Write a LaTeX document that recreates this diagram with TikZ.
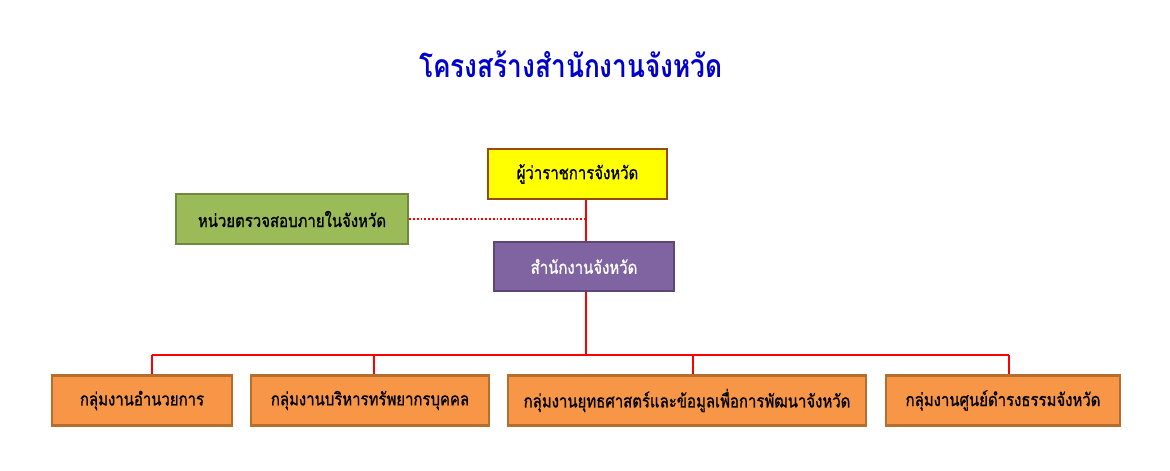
\documentclass[tikz,border=0pt]{standalone}
\usepackage{fontspec}
\newfontfamily\thaifont[Script=Thai, FakeStretch=0.83, FakeBold=1]{Loma}
\newfontfamily\thaititle[Script=Thai, FakeStretch=0.82]{Loma Bold}
\definecolor{titleblue}{RGB}{0,0,204}
\definecolor{yellowfill}{RGB}{255,255,0}
\definecolor{yellowline}{RGB}{152,72,7}
\definecolor{greenfill}{RGB}{155,187,89}
\definecolor{greenline}{RGB}{113,137,63}
\definecolor{purplefill}{RGB}{128,100,162}
\definecolor{purpleline}{RGB}{92,71,118}
\definecolor{orangefill}{RGB}{247,150,70}
\definecolor{orangeline}{RGB}{182,110,46}
\begin{document}
\begin{tikzpicture}[x=1pt,y=-1pt,
  box/.style={draw, line width=2.5pt, inner sep=0pt, minimum height=50pt,
    font=\thaifont\fontsize{18}{20}\selectfont},
  orgbox/.style={box, fill=orangefill, draw=orangeline},
  link/.style={draw=red, line width=1.8pt},
  dotlink/.style={draw=red, line width=1.8pt, dotted},
  titletext/.style={font=\thaititle\fontsize{32}{36}\selectfont, text=titleblue}]
\useasboundingbox[fill=white] (0,0) rectangle (1170,471);
\node[titletext] (title) at (571,64) {โครงสร้างสำนักงานจังหวัด};
\node[box, fill=yellowfill, draw=yellowline, minimum width=179pt] (gov) at (577.5,174) {ผู้ว่าราชการจังหวัด};
\node[box, fill=greenfill, draw=greenline, minimum width=232pt] (audit) at (292,219) {หน่วยตรวจสอบภายในจังหวัด};
\node[box, fill=purplefill, draw=purpleline, text=white, minimum width=180pt, minimum height=49pt] (office) at (584,266.5) {สำนักงานจังหวัด};
\node[orgbox, minimum width=180pt] (g1) at (142,400.5) {กลุ่มงานอำนวยการ};
\node[orgbox, minimum width=238pt] (g2) at (370,400.5) {กลุ่มงานบริหารทรัพยากรบุคคล};
\node[orgbox, minimum width=358pt] (g3) at (687,400.5) {กลุ่มงานยุทธศาสตร์และข้อมูลเพื่อการพัฒนาจังหวัด};
\node[orgbox, minimum width=234pt] (g4) at (1003,400.5) {กลุ่มงานศูนย์ดำรงธรรมจังหวัด};
\coordinate (trunk) at (586,355);
\coordinate (d1) at (152,355);
\coordinate (d2) at (374,355);
\coordinate (d3) at (693,355);
\coordinate (d4) at (1009,355);
\draw[link] (trunk |- gov.south) -- (trunk |- office.north);
\draw[dotlink] (audit.east) -- (audit.east -| trunk);
\draw[link] (trunk |- office.south) -- (trunk);
\draw[link] (d1) -- (d4);
\draw[link] (d1) -- (d1 |- g1.north);
\draw[link] (d2) -- (d2 |- g2.north);
\draw[link] (d3) -- (d3 |- g3.north);
\draw[link] (d4) -- (d4 |- g4.north);
\end{tikzpicture}
\end{document}
